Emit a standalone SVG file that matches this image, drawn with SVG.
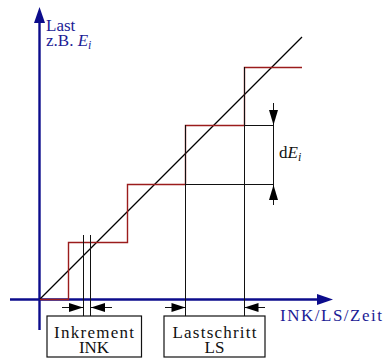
<svg xmlns="http://www.w3.org/2000/svg" width="384" height="360" viewBox="0 0 384 360">
<style>
  .t{font-family:"Liberation Serif","Times New Roman",serif;font-size:17px;fill:#111}
  .b{fill:#1c1c96}
  .ax{stroke:#0c0c8c;stroke-width:2.4;fill:none}
  .thin{stroke:#111;stroke-width:1;fill:none}
  .box{stroke:#111;stroke-width:1.2;fill:#fff}
</style>
<g id="axes">
  <line class="ax" x1="39.5" y1="330" x2="39.5" y2="20"/>
  <path d="M39.5,7 L45,23 L34,23 Z" fill="#0c0c8c"/>
  <line class="ax" x1="10" y1="299.5" x2="320" y2="299.5"/>
  <path d="M333,299.5 L317,294 L317,305 Z" fill="#0c0c8c"/>
</g>
<g id="connectors">
  <line x1="40" y1="299" x2="302" y2="37" stroke="#000" stroke-width="1.2"/>
  <path d="M40,299.5 H68.5 V242.5 H127.5 V184.5 H185.5 V125.5 H244.5 V67.5 H302" fill="none" stroke="#9b1c1c" stroke-width="1.4"/>
  <line class="thin" x1="83.5" y1="235" x2="83.5" y2="316"/>
  <line class="thin" x1="90.5" y1="235" x2="90.5" y2="316"/>
  <line class="thin" x1="185.5" y1="125" x2="185.5" y2="316"/>
  <line class="thin" x1="244.5" y1="67" x2="244.5" y2="316"/>
  <line class="thin" x1="244.5" y1="125.5" x2="273.5" y2="125.5"/>
  <line class="thin" x1="185.5" y1="184.5" x2="273.5" y2="184.5"/>
  <line class="thin" x1="273.5" y1="103" x2="273.5" y2="205"/>
  <path d="M273.5,125 L269,110 L278,110 Z" fill="#000"/>
  <path d="M273.5,185 L269,200 L278,200 Z" fill="#000"/>
  <line class="thin" x1="62" y1="307.5" x2="83" y2="307.5"/>
  <path d="M83,307.5 L69,303 L69,312 Z" fill="#000"/>
  <line class="thin" x1="112" y1="307.5" x2="91" y2="307.5"/>
  <path d="M91,307.5 L105,303 L105,312 Z" fill="#000"/>
  <line class="thin" x1="165" y1="307.5" x2="185.5" y2="307.5"/>
  <path d="M185.5,307.5 L171.5,303 L171.5,312 Z" fill="#000"/>
  <line class="thin" x1="265" y1="307.5" x2="244.5" y2="307.5"/>
  <path d="M244.5,307.5 L258.5,303 L258.5,312 Z" fill="#000"/>
</g>
<g id="ink">
  <rect class="box" x="47" y="316" width="94.5" height="41"/>
  <text class="t" x="94" y="337.5" text-anchor="middle" textLength="80" lengthAdjust="spacing">Inkrement</text>
  <text class="t" x="94" y="352.5" text-anchor="middle">INK</text>
</g>
<g id="ls">
  <rect class="box" x="164" y="316" width="101" height="41"/>
  <text class="t" x="214.5" y="337.5" text-anchor="middle" textLength="84" lengthAdjust="spacing">Lastschritt</text>
  <text class="t" x="214.5" y="352.5" text-anchor="middle">LS</text>
</g>
<g id="labels">
  <text class="t b" x="46" y="31">Last</text>
  <text class="t b" x="46" y="45.5">z.B. <tspan font-style="italic">E</tspan><tspan font-style="italic" font-size="12" dy="3">i</tspan></text>
  <text class="t b" x="280" y="321" textLength="102" lengthAdjust="spacing">INK/LS/Zeit</text>
  <text class="t" x="279" y="158">d<tspan font-style="italic">E</tspan><tspan font-style="italic" font-size="12" dy="3">i</tspan></text>
</g>
</svg>
